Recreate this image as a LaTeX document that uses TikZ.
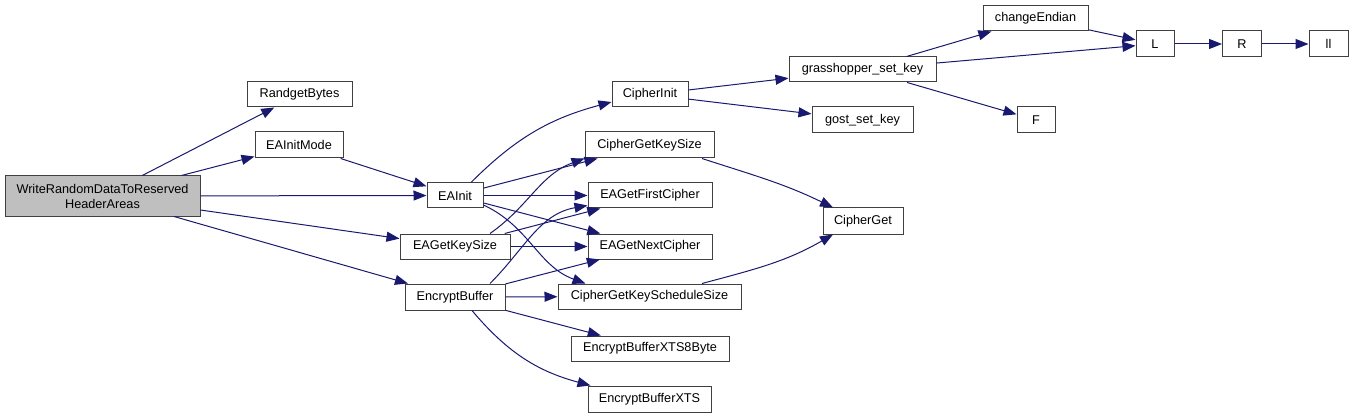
\documentclass[tikz,border=0pt]{standalone}
\usepackage{fontspec}
\setmainfont{Liberation Sans}
\usetikzlibrary{arrows.meta}
\definecolor{edgecol}{HTML}{191970}
\definecolor{rootgray}{HTML}{BFBFBF}
\definecolor{boxline}{HTML}{404040}
\begin{document}
\begin{tikzpicture}[x=1pt,y=1pt,
  fn/.style={draw=boxline, line width=1pt, fill=white, inner sep=0pt,
    font=\fontsize{12.7}{15}\selectfont, minimum height=25pt, align=center},
  ed/.style={draw=edgecol, line width=1pt, -{Triangle[length=13pt,width=10pt]}},
]
\useasboundingbox[fill=white] (0,0) rectangle (1353,-417);

\node[fn, fill=rootgray, minimum width=195pt, minimum height=40pt] (wrd) at (102.5,-196) {WriteRandomDataToReserved\\HeaderAreas};
\node[fn, minimum width=105pt] (rgb) at (299.5,-94.5) {RandgetBytes};
\node[fn, minimum width=88pt, minimum height=26pt] (eaim) at (299,-145) {EAInitMode};
\node[fn, minimum width=56pt] (eai) at (455,-195.5) {EAInit};
\node[fn, minimum width=110pt] (eagks) at (455,-246.5) {EAGetKeySize};
\node[fn, minimum width=100pt, minimum height=26pt] (eb) at (455,-297) {EncryptBuffer};
\node[fn, minimum width=76pt] (ci) at (650,-94.5) {CipherInit};
\node[fn, minimum width=129pt, minimum height=26pt] (cgks) at (649.5,-145) {CipherGetKeySize};
\node[fn, minimum width=124pt] (eagfc) at (650,-195.5) {EAGetFirstCipher};
\node[fn, minimum width=124pt] (eagnc) at (650,-246.5) {EAGetNextCipher};
\node[fn, minimum width=183pt] (cgkss) at (649.5,-296.5) {CipherGetKeyScheduleSize};
\node[fn, minimum width=158pt] (xts8) at (650,-348.5) {EncryptBufferXTS8Byte};
\node[fn, minimum width=123pt, minimum height=26pt] (xts) at (649.5,-399) {EncryptBufferXTS};
\node[fn, minimum width=80pt, minimum height=26pt] (cg) at (863,-221) {CipherGet};
\node[fn, minimum width=101pt, minimum height=26pt] (gost) at (862.5,-120) {gost\_set\_key};
\node[fn, minimum width=147pt] (gsk) at (862.5,-69.5) {grasshopper\_set\_key};
\node[fn, minimum width=105pt] (ce) at (1035.5,-18.5) {changeEndian};
\node[fn, minimum width=38pt, minimum height=26pt] (f) at (1036,-120) {F};
\node[fn, minimum width=38pt, minimum height=26pt] (l) at (1155,-44) {L};
\node[fn, minimum width=39pt, minimum height=26pt] (r) at (1242,-44) {R};
\node[fn, minimum width=39pt, minimum height=26pt] (ll) at (1328.5,-44) {ll};

\draw[ed] (wrd) -- (rgb);
\draw[ed] (wrd) -- (eaim);
\draw[ed] (wrd) -- (eai);
\draw[ed] (wrd) -- (eagks);
\draw[ed] (wrd) -- (eb);
\draw[ed] (eaim) -- (eai);
\draw[ed] (eai) -- (cgks);
\draw[ed] (eai) -- (eagfc);
\draw[ed] (eai) -- (eagnc);
\draw[ed] (eagks) -- (eagfc);
\draw[ed] (eagks) -- (eagnc);
\draw[ed] (eb) -- (eagnc);
\draw[ed] (eb) -- (cgkss);
\draw[ed] (eb) -- (xts8);
\draw[ed] (ci) -- (gsk);
\draw[ed] (ci) -- (gost);
\draw[ed] (gsk) -- (ce);
\draw[ed] (gsk) -- (l);
\draw[ed] (gsk) -- (f);
\draw[ed] (ce) -- (l);
\draw[ed] (l) -- (r);
\draw[ed] (r) -- (ll);

\draw[ed] ([xshift=16pt]eai.north) to[out=45,in=195] ([yshift=-7.5pt]ci.west);
\draw[ed] ([yshift=-9.5pt]eai.east) to[out=-25,in=160] ([xshift=-64pt]cgkss.north);
\draw[ed] ([xshift=35pt]eagks.north) to[out=35,in=200] (cgks.south west);
\draw[ed] ([xshift=35pt]eb.north) to[out=45,in=190] ([yshift=-10pt]eagfc.west);
\draw[ed] ([xshift=17pt]eb.south) to[out=-50,in=165] ([xshift=-59pt]xts.north);
\draw[ed] ([xshift=52.5pt]cgks.south) to[out=-18,in=154] ([xshift=-30pt]cg.north);
\draw[ed] ([xshift=52.5pt]cgkss.north) to[out=15,in=210] ([xshift=-30pt]cg.south);
\end{tikzpicture}
\end{document}
